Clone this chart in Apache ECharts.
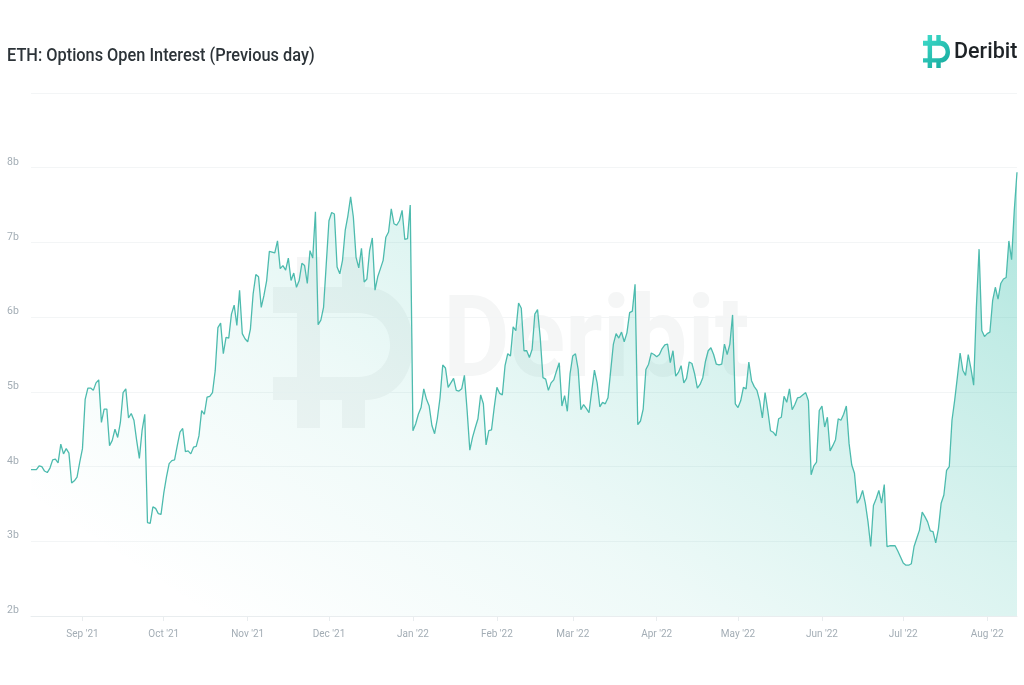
<!DOCTYPE html>
<html lang="en">
<head>
    <meta charset="UTF-8">
    <title>ETH: Options Open Interest (Previous day)</title>
    <script src="https://cdn.jsdelivr.net/npm/echarts@6/dist/echarts.min.js"></script>
    <style>
        html, body { margin: 0; padding: 0; background: #fff; }
        #main { width: 1024px; height: 685px; }
    </style>
</head>
<body>
<div id="main"></div>
<script type="text/javascript">
    // open interest in billions, one value per day from 13 Aug 2021
    var startDate = [2021, 7, 13];
    var values = [
        3.96, 3.96, 3.96, 4.01, 4.00, 3.94, 3.92, 3.98, 4.09, 4.10,
        4.05, 4.30, 4.17, 4.24, 4.18, 3.78, 3.81, 3.86, 4.06, 4.24,
        4.90, 5.05, 5.05, 5.02, 5.12, 5.16, 4.59, 4.77, 4.77, 4.28,
        4.35, 4.50, 4.39, 4.59, 4.99, 5.04, 4.65, 4.71, 4.62, 4.35,
        4.11, 4.48, 4.70, 3.25, 3.24, 3.46, 3.44, 3.37, 3.36, 3.64,
        3.86, 4.04, 4.08, 4.09, 4.28, 4.46, 4.51, 4.20, 4.21, 4.17,
        4.26, 4.27, 4.41, 4.75, 4.70, 4.93, 4.94, 4.99, 5.28, 5.86,
        5.92, 5.51, 5.73, 5.72, 6.04, 6.16, 5.89, 6.36, 5.78, 5.71,
        5.67, 5.84, 6.31, 6.57, 6.54, 6.13, 6.29, 6.49, 6.88, 6.87,
        6.86, 7.02, 6.65, 6.69, 6.63, 6.79, 6.49, 6.59, 6.40, 6.49,
        6.72, 6.69, 6.45, 6.89, 6.79, 7.41, 5.90, 5.96, 6.13, 6.71,
        7.29, 7.40, 7.38, 6.67, 6.58, 6.76, 7.16, 7.36, 7.61, 7.34,
        6.80, 6.66, 6.92, 6.47, 6.51, 6.89, 7.06, 6.36, 6.54, 6.65,
        6.76, 7.07, 7.14, 7.45, 7.25, 7.23, 7.29, 7.43, 7.04, 7.05,
        7.50, 4.48, 4.57, 4.70, 4.79, 5.04, 4.90, 4.81, 4.55, 4.44,
        4.64, 4.92, 5.36, 5.32, 5.06, 5.12, 5.18, 5.02, 5.01, 5.04,
        5.22, 4.75, 4.22, 4.39, 4.52, 4.64, 4.96, 4.84, 4.29, 4.48,
        4.49, 4.79, 5.06, 4.98, 4.96, 5.35, 5.51, 5.48, 5.87, 5.82,
        6.19, 6.12, 5.55, 5.55, 5.46, 5.57, 6.04, 6.10, 5.72, 5.19,
        5.17, 5.02, 5.12, 5.16, 5.28, 5.39, 4.81, 4.95, 4.74, 5.24,
        5.48, 5.51, 5.30, 4.76, 4.83, 4.78, 4.72, 5.01, 5.29, 5.12,
        4.80, 4.86, 4.84, 4.92, 5.28, 5.64, 5.78, 5.72, 5.80, 5.67,
        5.79, 6.06, 6.08, 6.44, 4.56, 4.61, 4.77, 5.30, 5.37, 5.52,
        5.50, 5.47, 5.50, 5.58, 5.63, 5.64, 5.39, 5.55, 5.21, 5.26,
        5.35, 5.12, 5.18, 5.40, 5.38, 5.24, 5.05, 5.10, 5.19, 5.41,
        5.55, 5.59, 5.50, 5.37, 5.36, 5.37, 5.64, 5.50, 5.64, 6.03,
        4.84, 4.79, 4.88, 5.06, 5.04, 5.40, 5.15, 5.07, 5.02, 4.88,
        4.65, 4.99, 4.75, 4.48, 4.46, 4.41, 4.64, 4.66, 4.94, 4.86,
        5.04, 4.76, 4.83, 4.92, 4.93, 4.96, 4.99, 4.88, 3.89, 4.01,
        4.06, 4.75, 4.81, 4.53, 4.66, 4.21, 4.28, 4.36, 4.64, 4.62,
        4.70, 4.81, 4.31, 4.02, 3.91, 3.51, 3.57, 3.68, 3.51, 3.26,
        2.93, 3.48, 3.57, 3.68, 3.51, 3.76, 2.93, 2.94, 2.94, 2.94,
        2.87, 2.79, 2.71, 2.68, 2.68, 2.70, 2.93, 3.04, 3.15, 3.39,
        3.33, 3.26, 3.14, 3.13, 2.98, 3.17, 3.51, 3.62, 3.95, 4.00,
        4.62, 4.89, 5.20, 5.52, 5.29, 5.22, 5.50, 5.31, 5.09, 6.13,
        6.91, 5.82, 5.74, 5.78, 5.80, 6.22, 6.40, 6.24, 6.45, 6.51,
        6.53, 7.02, 6.77, 7.43, 7.94
    ];
    var monthNames = ['Jan', 'Feb', 'Mar', 'Apr', 'May', 'Jun', 'Jul', 'Aug', 'Sep', 'Oct', 'Nov', 'Dec'];

    var dates = [];
    for (var i = 0; i < values.length; i++) {
        dates.push(new Date(Date.UTC(startDate[0], startDate[1], startDate[2] + i)));
    }
    var categories = dates.map(function (d) {
        return monthNames[d.getUTCMonth()] + " '" + String(d.getUTCFullYear()).slice(2);
    });
    function isMonthStart(index) {
        return dates[index].getUTCDate() === 1;
    }

    // the D with bars, drawn in a 140 x 171 box
    var logoPath = 'M0,30 H24 V0 H47 V30 H69 V0 H92 V30 C120,30 140,55 140,88 C140,120 120,143 92,143 ' +
        'V171 H69 V143 H47 V171 H24 V143 H0 V120 H24 V56 H0 Z ' +
        'M47,56 V120 H85 C105,120 117,105 117,88 C117,70 105,56 85,56 Z';
    echarts.graphic.registerShape('deribitLogo', echarts.graphic.extendPath(logoPath, {}));

    var myChart = echarts.init(document.getElementById('main'));

    var option = {
        animation: false,
        backgroundColor: '#fff',
        grid: { left: 31, right: 7, top: 93, bottom: 69 },
        xAxis: {
            type: 'category',
            data: categories,
            boundaryGap: false,
            axisLine: { lineStyle: { color: '#e9edef', width: 1 } },
            axisTick: { interval: isMonthStart, length: 5, lineStyle: { color: '#e9edef' } },
            axisLabel: {
                interval: isMonthStart,
                color: '#a3adb5',
                fontFamily: 'Roboto',
                fontSize: 10,
                margin: 13
            },
            splitLine: { show: false }
        },
        yAxis: {
            type: 'value',
            min: 2,
            max: 9,
            interval: 1,
            axisLine: { show: false },
            axisTick: { show: false },
            axisLabel: {
                color: '#a3adb5',
                fontFamily: 'Roboto',
                fontSize: 10.5,
                align: 'left',
                verticalAlign: 'bottom',
                margin: 24,
                formatter: function (v) { return v === 9 ? '' : v + 'b'; }
            },
            splitLine: { lineStyle: { color: '#f3f5f6', width: 1 } }
        },
        graphic: [
            // watermark behind the area
            {
                type: 'deribitLogo', z: 0,
                x: 273, y: 257,
                style: { fill: '#f5f6f6' }
            },
            {
                type: 'text', z: 0, x: 443, y: 290, scaleX: 0.9,
                style: { text: 'Deribit', fill: '#f5f6f6', font: '700 114px Roboto' }
            },
            // header
            {
                type: 'text', z: 10, x: 7, y: 48, scaleX: 0.933,
                style: { text: 'ETH: Options Open Interest (Previous day)', fill: '#2c3338', font: '500 17.5px Roboto' }
            },
            {
                type: 'deribitLogo', z: 10,
                x: 923, y: 35, scaleX: 27 / 140, scaleY: 33 / 171,
                style: {
                    fill: new echarts.graphic.LinearGradient(0, 0, 1, 1, [
                        { offset: 0, color: '#3fdccb' },
                        { offset: 1, color: '#14a79b' }
                    ])
                }
            },
            {
                type: 'text', z: 10, x: 954, y: 42,
                style: { text: 'Deribit', fill: '#1d2226', font: '500 21.5px Roboto' }
            }
        ],
        series: [{
            type: 'line',
            data: values,
            symbol: 'none',
            sampling: 'none',
            lineStyle: { color: '#4dbbae', width: 1.3 },
            areaStyle: {
                color: new echarts.graphic.LinearGradient(1017, 200, 577, 864, [
                    { offset: 0, color: 'rgba(50,190,170,0.56)' },
                    { offset: 0.15, color: 'rgba(50,190,170,0.43)' },
                    { offset: 0.4, color: 'rgba(50,190,170,0.26)' },
                    { offset: 0.65, color: 'rgba(50,190,170,0.12)' },
                    { offset: 1, color: 'rgba(50,190,170,0)' }
                ], true)
            }
        }]
    };

    myChart.setOption(option);
</script>
</body>
</html>
